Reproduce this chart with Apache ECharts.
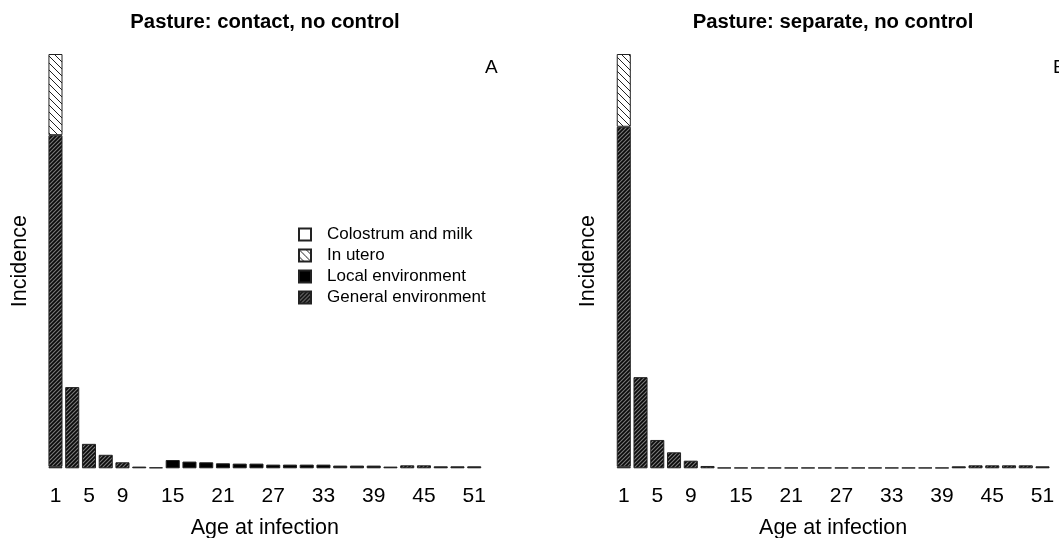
<!DOCTYPE html>
<html>
<head>
<meta charset="utf-8">
<script src="https://cdn.jsdelivr.net/npm/echarts@6/dist/echarts.min.js"></script>
<style>
  html, body { margin: 0; padding: 0; background: #fff; }
  #chart { width: 1059px; height: 538px; }
</style>
</head>
<body>
<div id="chart"></div>
<script>
// Age classes (years) at infection
const ages = ['1','3','5','7','9','11','13','15','17','19','21','23','25','27',
              '29','31','33','35','37','39','41','43','45','47','49','51'];
const shownTicks = ['1','5','9','15','21','27','33','39','45','51'];

// Relative incidence by route, pasture with contact, no control
const contactColostrum = [0.36,0,0,0,0,0,0,0,0,0,0,0,0,0,0,0,0,0,0,0,0,0,0,0,0,0];
const contactInUtero   = [19.6,0,0,0,0,0,0,0,0,0,0,0,0,0,0,0,0,0,0,0,0,0,0,0,0,0];
const contactLocal     = [0,0,0,0,0,0.41,0.24,2.0,1.62,1.45,1.21,1.13,1.13,0.89,
                          0.89,0.89,0.89,0.65,0.65,0.65,0.41,0,0,0.48,0.48,0.48];
const contactGeneral   = [80.04,19.6,5.9,3.26,1.45,0,0,0,0,0,0,0,0,0,
                          0,0,0,0,0,0,0,0.72,0.72,0,0,0];

// Relative incidence by route, pasture separated, no control
const separateColostrum = [0.36,0,0,0,0,0,0,0,0,0,0,0,0,0,0,0,0,0,0,0,0,0,0,0,0,0];
const separateInUtero   = [17.56,0,0,0,0,0,0,0,0,0,0,0,0,0,0,0,0,0,0,0,0,0,0,0,0,0];
const separateLocal     = [0,0,0,0,0,0,0,0,0,0,0,0,0,0,0,0,0,0,0,0,0.48,0,0,0,0,0.48];
const separateGeneral   = [82.08,22.0,6.84,3.86,1.84,0.56,0.17,0.17,0.17,0.17,0.17,0.17,0.17,0.17,
                           0.17,0.17,0.17,0.17,0.17,0.17,0,0.72,0.72,0.72,0.72,0];

const FONT = '"Liberation Sans", Arial, sans-serif';

// Diagonal hatch tile used as a repeating fill
function hatch(size, bg, fg, lw, dir) {
  const c = document.createElement('canvas');
  c.width = c.height = size;
  const g = c.getContext('2d');
  g.fillStyle = bg;
  g.fillRect(0, 0, size, size);
  g.strokeStyle = fg;
  g.lineWidth = lw;
  g.beginPath();
  for (const o of [-size, 0, size]) {
    if (dir === '/') { g.moveTo(o - 1, size + 1); g.lineTo(o + size + 1, -1); }
    else { g.moveTo(o - 1, -1); g.lineTo(o + size + 1, size + 1); }
  }
  g.stroke();
  return c;
}

const generalFill = { image: hatch(4, '#7a7a7a', '#0a0a0a', 1.7, '/'), repeat: 'repeat' };
const uteroFill = { image: hatch(7, '#ffffff', '#222', 1, '\\'), repeat: 'repeat' };

const routes = [
  { name: 'Colostrum and milk', color: '#ffffff' },
  { name: 'Local environment', color: '#000000' },
  { name: 'General environment', color: generalFill },
  { name: 'In utero', color: uteroFill }
];

const nz = arr => arr.map(v => (v > 0 ? v : null));

function panelSeries(idx, parts) {
  return routes.map((r, i) => ({
    name: r.name,
    type: 'bar',
    stack: 'panel' + idx,
    xAxisIndex: idx,
    yAxisIndex: idx,
    barCategoryGap: '16%',
    itemStyle: { color: r.color, borderColor: '#222', borderWidth: 1 },
    emphasis: { disabled: true },
    data: nz(parts[i])
  }));
}

const gridLeft = [47.1, 615.4];
const gridWidth = 435.5;

const xAxes = gridLeft.map((_, i) => ({
  type: 'category',
  gridIndex: i,
  data: ages,
  axisLine: { show: false },
  axisTick: { show: false },
  axisLabel: {
    interval: (index, value) => shownTicks.includes(value),
    margin: 17,
    fontSize: 21,
    color: '#000',
    fontFamily: FONT
  },
  name: 'Age at infection',
  nameLocation: 'middle',
  nameGap: 49,
  nameTextStyle: { fontSize: 21.5, color: '#000', fontFamily: FONT }
}));

const yAxes = gridLeft.map((_, i) => ({
  type: 'value',
  gridIndex: i,
  min: 0,
  max: 100,
  axisLine: { show: false },
  axisTick: { show: false },
  axisLabel: { show: false },
  splitLine: { show: false },
  name: 'Incidence',
  nameLocation: 'middle',
  nameGap: 16,
  nameTextStyle: { fontSize: 21.5, color: '#000', fontFamily: FONT }
}));

const titleStyle = { fontSize: 20.3, fontWeight: 'bold', color: '#000', fontFamily: FONT };
const letterStyle = { fontSize: 19, fontWeight: 'normal', color: '#000', fontFamily: FONT };

const option = {
  backgroundColor: '#ffffff',
  animation: false,
  title: [
    { text: 'Pasture: contact, no control', left: 265, top: 12, padding: 0, textAlign: 'center', textStyle: titleStyle },
    { text: 'Pasture: separate, no control', left: 833, top: 12, padding: 0, textAlign: 'center', textStyle: titleStyle },
    { text: 'A', left: 480, top: 53, textStyle: letterStyle },
    { text: 'B', left: 1048, top: 53, textStyle: letterStyle }
  ],
  legend: {
    data: ['Colostrum and milk', 'In utero', 'Local environment', 'General environment'],
    orient: 'vertical',
    left: 293,
    top: 221,
    itemWidth: 12,
    itemHeight: 12,
    itemGap: 4,
    icon: 'rect',
    selectedMode: false,
    textStyle: { fontSize: 17, color: '#000', fontFamily: FONT, padding: [0, 0, 0, 11] }
  },
  grid: gridLeft.map(l => ({
    left: l, width: gridWidth, top: 54, bottom: 69.7,
    containLabel: false, outerBoundsMode: 'none'
  })),
  xAxis: xAxes,
  yAxis: yAxes,
  series: [
    ...panelSeries(0, [contactColostrum, contactLocal, contactGeneral, contactInUtero]),
    ...panelSeries(1, [separateColostrum, separateLocal, separateGeneral, separateInUtero])
  ]
};

const chart = echarts.init(document.getElementById('chart'), null, { renderer: 'canvas' });
chart.setOption(option);
</script>
</body>
</html>
